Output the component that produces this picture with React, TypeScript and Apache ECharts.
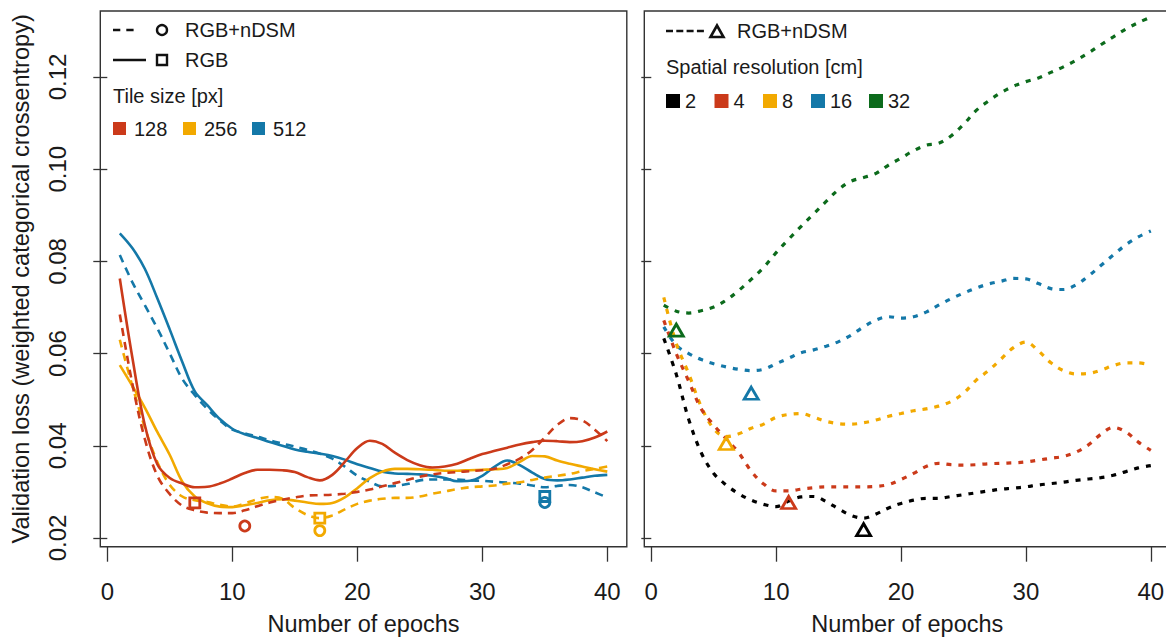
import React, { useEffect, useRef } from "react";
import * as echarts from "echarts";

const epochs = [1, 2, 3, 4, 5, 6, 7, 8, 9, 10, 11, 12, 13, 14, 15, 16, 17, 18, 19, 20, 21, 22, 23, 24, 25, 26, 27, 28, 29, 30, 31, 32, 33, 34, 35, 36, 37, 38, 39, 40];
const xTicks = [0, 10, 20, 30, 40];
const yTicks = [0.02, 0.04, 0.06, 0.08, 0.1, 0.12];

// Left panel: tile size (RGB solid, RGB+nDSM dashed)
const rgb128 = [0.0763, 0.0592, 0.0445, 0.036, 0.033, 0.0318, 0.031, 0.0311, 0.0318, 0.0329, 0.0341, 0.0348, 0.0348, 0.0347, 0.0343, 0.0332, 0.0325, 0.0337, 0.0365, 0.0395, 0.0411, 0.0404, 0.0385, 0.0369, 0.0358, 0.0353, 0.0355, 0.0361, 0.0372, 0.0382, 0.0389, 0.0396, 0.0403, 0.0408, 0.0411, 0.041, 0.0408, 0.041, 0.0418, 0.0431];
const ndsm128 = [0.0685, 0.0535, 0.0415, 0.0335, 0.0295, 0.027, 0.026, 0.0255, 0.0254, 0.0254, 0.026, 0.0269, 0.0277, 0.0283, 0.0288, 0.0292, 0.0293, 0.0294, 0.0296, 0.03, 0.0305, 0.0312, 0.0319, 0.0326, 0.0333, 0.0338, 0.0341, 0.0343, 0.0345, 0.0347, 0.035, 0.036, 0.0372, 0.0391, 0.0418, 0.0445, 0.046, 0.0455, 0.0435, 0.041];
const rgb256 = [0.0575, 0.053, 0.0483, 0.043, 0.038, 0.0322, 0.029, 0.0275, 0.0268, 0.0267, 0.0271, 0.0276, 0.0282, 0.0284, 0.0281, 0.0277, 0.0274, 0.0276, 0.0288, 0.0308, 0.033, 0.0344, 0.035, 0.035, 0.0349, 0.0348, 0.0346, 0.0346, 0.0347, 0.0348, 0.0349, 0.0352, 0.0365, 0.0378, 0.0377, 0.0368, 0.0361, 0.0355, 0.0349, 0.0344];
const ndsm256 = [0.063, 0.053, 0.044, 0.0365, 0.0315, 0.029, 0.0282, 0.0278, 0.0272, 0.0268, 0.0275, 0.0284, 0.0289, 0.0285, 0.0265, 0.025, 0.0243, 0.0249, 0.0262, 0.0274, 0.0281, 0.0285, 0.0287, 0.0287, 0.029, 0.0296, 0.0301, 0.0306, 0.031, 0.0312, 0.0314, 0.0318, 0.0321, 0.0326, 0.0331, 0.0335, 0.0339, 0.0345, 0.035, 0.0355];
const rgb512 = [0.0861, 0.0829, 0.0784, 0.072, 0.0652, 0.0582, 0.0518, 0.0488, 0.0458, 0.0437, 0.0425, 0.0417, 0.0408, 0.04, 0.0392, 0.0387, 0.0383, 0.0378, 0.037, 0.036, 0.0352, 0.0344, 0.034, 0.0339, 0.0338, 0.0335, 0.033, 0.0323, 0.0324, 0.0335, 0.0355, 0.0368, 0.0358, 0.0342, 0.0328, 0.0325, 0.0327, 0.0331, 0.0335, 0.0337];
const ndsm512 = [0.0814, 0.0755, 0.0705, 0.0655, 0.06, 0.0545, 0.051, 0.048, 0.0455, 0.0435, 0.0427, 0.042, 0.0412, 0.0405, 0.0398, 0.0391, 0.0383, 0.0372, 0.0355, 0.0335, 0.0322, 0.0312, 0.0313, 0.0317, 0.0325, 0.0327, 0.0327, 0.0327, 0.0325, 0.0324, 0.0322, 0.032, 0.0318, 0.0314, 0.031, 0.0313, 0.0315, 0.031, 0.0299, 0.0288];

// Minimum markers, left panel (128, 256, 512)
const minRgbEpoch = [7, 17, 35];
const minRgbLoss = [0.0276, 0.0243, 0.029];
const minNdsmEpoch = [11, 17, 35];
const minNdsmLoss = [0.0226, 0.0216, 0.0277];

// Right panel: spatial resolution (RGB+nDSM)
const res2 = [0.0633, 0.0555, 0.0457, 0.0385, 0.034, 0.0315, 0.0296, 0.0282, 0.0273, 0.0268, 0.028, 0.0289, 0.029, 0.0279, 0.0263, 0.0249, 0.0243, 0.0252, 0.0265, 0.0275, 0.0282, 0.0286, 0.0286, 0.029, 0.0294, 0.0298, 0.0302, 0.0306, 0.0308, 0.0311, 0.0315, 0.0318, 0.0321, 0.0325, 0.0328, 0.0331, 0.0336, 0.0344, 0.0352, 0.0357];
const res4 = [0.0672, 0.06, 0.054, 0.048, 0.0445, 0.0415, 0.0385, 0.0345, 0.0317, 0.0302, 0.0302, 0.0306, 0.0309, 0.0311, 0.0311, 0.0311, 0.0311, 0.0312, 0.0316, 0.0327, 0.034, 0.0355, 0.0362, 0.0359, 0.0358, 0.0359, 0.0361, 0.0362, 0.0363, 0.0365, 0.0369, 0.0373, 0.0377, 0.0386, 0.0402, 0.0425, 0.044, 0.043, 0.0408, 0.039];
const res8 = [0.0722, 0.0622, 0.0556, 0.0485, 0.0437, 0.042, 0.0426, 0.0438, 0.0447, 0.0462, 0.0468, 0.047, 0.0462, 0.0453, 0.0448, 0.0447, 0.045, 0.0456, 0.0464, 0.047, 0.0476, 0.048, 0.0486, 0.0496, 0.0514, 0.0542, 0.0563, 0.0588, 0.0613, 0.0625, 0.0606, 0.058, 0.0563, 0.0556, 0.0557, 0.0564, 0.0574, 0.058, 0.058, 0.0575];
const res16 = [0.0658, 0.0618, 0.06, 0.0587, 0.0578, 0.0571, 0.0566, 0.0563, 0.0566, 0.0578, 0.059, 0.0602, 0.0608, 0.0616, 0.0626, 0.064, 0.0658, 0.0673, 0.068, 0.0677, 0.068, 0.069, 0.0705, 0.0719, 0.0731, 0.0742, 0.0751, 0.0757, 0.0763, 0.0762, 0.0752, 0.0741, 0.0739, 0.0749, 0.0768, 0.0791, 0.0814, 0.0836, 0.0853, 0.0866];
const res32 = [0.0705, 0.0692, 0.0688, 0.0693, 0.0701, 0.0716, 0.0737, 0.0761, 0.0787, 0.0819, 0.0848, 0.0876, 0.0903, 0.093, 0.0956, 0.0974, 0.0982, 0.0991, 0.1009, 0.1024, 0.104, 0.1052, 0.1056, 0.1072, 0.1097, 0.1127, 0.1148, 0.1166, 0.118, 0.119, 0.1198, 0.121, 0.1222, 0.1236, 0.1252, 0.127, 0.1287, 0.1304, 0.1318, 0.133];

// Minimum markers, right panel (2, 4, 8, 16, 32 cm)
const resMinEpoch = [17, 11, 6, 8, 2];
const resMinLoss = [0.0218, 0.0277, 0.0405, 0.0514, 0.0651];

const tileLabels = ["128", "256", "512"];
const resLabels = ["2", "4", "8", "16", "32"];

const RED = "#CB3A1A";
const YEL = "#F2A900";
const BLU = "#1478A8";
const GRN = "#0C6B1C";
const BLK = "#000000";
const tileColors = [RED, YEL, BLU];
const resColors = [BLK, RED, YEL, BLU, GRN];

const FONT = '"Liberation Sans", Arial, Helvetica, sans-serif';
const TXT = "#1a1a1a";
const AX = "#333333";
const AXFS = 24;

const pairs = (vals: number[]) => epochs.map((e, i) => [e, vals[i]]);

export default function App() {
  const ref = useRef<HTMLDivElement>(null);
  useEffect(() => {
    const chart = echarts.init(ref.current!, null, { renderer: "svg" });

    const xAxisBase = (gridIndex: number) => ({
      gridIndex,
      type: "value",
      min: -0.56,
      max: 41.56,
      axisLine: { show: false },
      splitLine: { show: false },
      axisTick: { show: true, customValues: xTicks, length: 15, lineStyle: { color: AX, width: 1.3 } },
      axisLabel: { customValues: xTicks, fontSize: AXFS, fontFamily: FONT, color: TXT, margin: 33 },
      name: "Number of epochs",
      nameLocation: "middle",
      nameGap: 64,
      nameTextStyle: { fontSize: 23.5, fontFamily: FONT, color: TXT, lineHeight: 26 },
    });

    const yAxisBase = (gridIndex: number, labels: boolean) => ({
      gridIndex,
      type: "value",
      min: 0.01811,
      max: 0.13432,
      axisLine: { show: false },
      splitLine: { show: false },
      axisTick: { show: true, customValues: yTicks, length: labels ? 14 : 10, lineStyle: { color: AX, width: 1.3 } },
      axisLabel: labels
        ? { customValues: yTicks, rotate: 90, fontSize: AXFS, fontFamily: FONT, color: TXT, margin: 31, formatter: (v: number) => v.toFixed(2) }
        : { show: false },
      name: labels ? "Validation loss (weighted categorical crossentropy)" : "",
      nameLocation: "middle",
      nameRotate: 90,
      nameGap: 67,
      nameTextStyle: { fontSize: 23.6, fontFamily: FONT, color: TXT },
    });

    const lineSeries = (vals: number[], color: string, grid: number, type: any, width: number) => ({
      type: "line",
      xAxisIndex: grid,
      yAxisIndex: grid,
      data: pairs(vals),
      smooth: 0.35,
      showSymbol: false,
      symbol: "none",
      lineStyle: { color, width, type, cap: "butt" },
      z: 2,
    });

    const DASH = [8, 6];
    const DOT = [5, 7];

    const leftLines = [
      lineSeries(rgb512, BLU, 0, "solid", 2.6),
      lineSeries(ndsm512, BLU, 0, DASH, 2.6),
      lineSeries(rgb256, YEL, 0, "solid", 2.6),
      lineSeries(ndsm256, YEL, 0, DASH, 2.6),
      lineSeries(rgb128, RED, 0, "solid", 2.6),
      lineSeries(ndsm128, RED, 0, DASH, 2.6),
    ];
    const rightLines = [
      lineSeries(res32, GRN, 1, DOT, 3.2),
      lineSeries(res16, BLU, 1, DOT, 3.2),
      lineSeries(res8, YEL, 1, DOT, 3.2),
      lineSeries(res4, RED, 1, DOT, 3.2),
      lineSeries(res2, BLK, 1, DOT, 3.2),
    ];

    const markerSeries = (ep: number[], loss: number[], colors: string[], grid: number, symbol: string, size: any) => ({
      type: "scatter",
      xAxisIndex: grid,
      yAxisIndex: grid,
      symbol,
      symbolSize: size,
      z: 5,
      itemStyle: { opacity: 1 },
      data: ep.map((e, i) => ({
        value: [e, loss[i]],
        itemStyle: { color: "rgba(0,0,0,0)", borderColor: colors[i], borderWidth: 2.8, opacity: 1 },
      })),
    });

    const legendText = (text: string, x: number, y: number) => ({
      type: "text",
      x,
      y,
      style: { text, fontSize: 20, fontFamily: FONT, fill: TXT, verticalAlign: "middle", align: "left" },
    });

    const graphics: any[] = [
      // left legend
      { type: "line", shape: { x1: 113, y1: 30, x2: 134, y2: 30 }, style: { stroke: "#111", lineWidth: 2.6, lineDash: [7.3, 6] } },
      { type: "circle", shape: { cx: 162, cy: 30, r: 5 }, style: { fill: "none", stroke: "#111", lineWidth: 2.4 } },
      legendText("RGB+nDSM", 185, 30),
      { type: "line", shape: { x1: 113, y1: 60, x2: 146, y2: 60 }, style: { stroke: "#111", lineWidth: 2.6 } },
      { type: "rect", shape: { x: 157, y: 55, width: 10, height: 10 }, style: { fill: "none", stroke: "#111", lineWidth: 2.4 } },
      legendText("RGB", 185, 60),
      legendText("Tile size [px]", 113, 96),
      ...tileLabels.flatMap((lab, i) => {
        const sx = [113, 183, 252][i];
        return [
          { type: "rect", shape: { x: sx, y: 122, width: 13, height: 13 }, style: { fill: tileColors[i] } },
          legendText(lab, sx + 21, 129),
        ];
      }),
      // right legend
      { type: "line", shape: { x1: 666, y1: 31, x2: 704, y2: 31 }, style: { stroke: "#111", lineWidth: 2.6, lineDash: [7, 3.3] } },
      { type: "polygon", shape: { points: [[710.5, 37], [723.5, 37], [717, 25.5]] }, style: { fill: "none", stroke: "#111", lineWidth: 2.6 } },
      legendText("RGB+nDSM", 737, 31),
      legendText("Spatial resolution [cm]", 666, 67),
      ...resLabels.flatMap((lab, i) => {
        const sx = [666, 714.5, 763, 811, 869][i];
        return [
          { type: "rect", shape: { x: sx, y: 94, width: 14, height: 14 }, style: { fill: resColors[i] } },
          legendText(lab, sx + 19, 101),
        ];
      }),
    ];

    const option: any = {
      animation: false,
      backgroundColor: "#ffffff",
      grid: [
        { left: 100.3, top: 11, width: 526.5, height: 535.7, outerBoundsMode: "none", containLabel: false, show: true, borderColor: AX, borderWidth: 1.4, backgroundColor: "transparent" },
        { left: 644.3, top: 11, width: 526, height: 535.7, outerBoundsMode: "none", containLabel: false, show: true, borderColor: AX, borderWidth: 1.4, backgroundColor: "transparent" },
      ],
      xAxis: [xAxisBase(0), xAxisBase(1)],
      yAxis: [yAxisBase(0, true), yAxisBase(1, false)],
      series: [
        ...leftLines,
        ...rightLines,
        markerSeries(minRgbEpoch, minRgbLoss, tileColors, 0, "rect", 10),
        markerSeries(minNdsmEpoch, minNdsmLoss, tileColors, 0, "circle", 10),
        markerSeries(resMinEpoch, resMinLoss, resColors, 1, "triangle", [14, 12]),
      ],
      graphic: graphics,
    };
    chart.setOption(option);
    return () => chart.dispose();
  }, []);
  return (
    <div
      ref={ref}
      style={{ position: "fixed", left: 0, top: 0, width: 1166, height: 638, background: "#fff" }}
    />
  );
}
